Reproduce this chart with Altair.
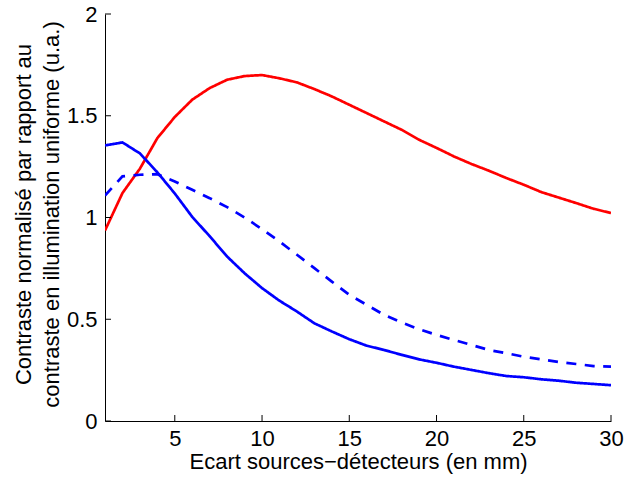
import altair as alt
import pandas as pd

# ---- data ----
x_mm = list(range(1, 31))
red_curve = [0.936, 1.12, 1.24, 1.39, 1.494, 1.579, 1.636, 1.677, 1.695, 1.700,
             1.684, 1.664, 1.631, 1.595, 1.554, 1.513, 1.472, 1.431, 1.382, 1.342,
             1.300, 1.263, 1.230, 1.194, 1.161, 1.125, 1.098, 1.071, 1.043, 1.022]
blue_solid = [1.354, 1.369, 1.315, 1.222, 1.118, 1.003, 0.908, 0.808, 0.726, 0.653,
              0.591, 0.538, 0.480, 0.440, 0.402, 0.370, 0.349, 0.325, 0.303, 0.286,
              0.267, 0.251, 0.235, 0.221, 0.215, 0.205, 0.198, 0.188, 0.182, 0.176]
blue_dashed = [1.108, 1.202, 1.210, 1.213, 1.177, 1.136, 1.095, 1.051, 1.000, 0.943,
               0.882, 0.817, 0.751, 0.685, 0.620, 0.571, 0.521, 0.484, 0.451, 0.423,
               0.398, 0.374, 0.349, 0.333, 0.316, 0.303, 0.290, 0.280, 0.270, 0.267]
series_names = ["rouge", "bleu plein", "bleu pointillé"]
x_ticks = [5, 10, 15, 20, 25, 30]
y_ticks = [0, 0.5, 1, 1.5, 2]

rows = []
for name, vals in zip(series_names, [red_curve, blue_solid, blue_dashed]):
    for xv, yv in zip(x_mm, vals):
        rows.append({"x": xv, "y": yv, "serie": name})
df = pd.DataFrame(rows)

FONT = "Liberation Sans"
FS = 22

xscale = alt.Scale(domain=[1, 30], nice=False, zero=False)
yscale = alt.Scale(domain=[0, 2], nice=False)

lines = alt.Chart(df).mark_line(strokeWidth=2.7, clip=True).encode(
    x=alt.X("x:Q", scale=xscale,
            axis=alt.Axis(values=x_ticks, ticks=False, grid=False, domainColor="black",
                          domainWidth=1, labelFontSize=FS, labelFont=FONT, labelColor="black",
                          labelPadding=7, labelFlush=False,
                          title="Ecart sources\u2212détecteurs (en mm)",
                          titleFont=FONT, titleFontSize=FS, titleFontWeight="normal",
                          titleColor="black", titleBaseline="alphabetic", titleY=47)),
    y=alt.Y("y:Q", scale=yscale,
            axis=alt.Axis(values=y_ticks, format="~g", ticks=False, grid=False,
                          domainColor="black", domainWidth=1, labelFontSize=FS,
                          labelFont=FONT, labelColor="black", labelPadding=8,
                          labelFlush=False,
                          title=["Contraste normalisé par rapport au",
                                 "contraste en illumination uniforme (u.a.)"],
                          titleFont=FONT, titleFontSize=FS, titleFontWeight="normal",
                          titleColor="black", titleAngle=270, titleBaseline="alphabetic",
                          titleX=-75, titleY=200, titleLineHeight=28)),
    color=alt.Color("serie:N", scale=alt.Scale(domain=series_names,
                                               range=["#ff0000", "#0000ff", "#0000ff"]),
                    legend=None),
    strokeDash=alt.StrokeDash("serie:N", scale=alt.Scale(domain=series_names,
                                                         range=[[1, 0], [1, 0], [10, 8.5]]),
                              legend=None),
    detail="serie:N",
)

xt = alt.Chart(pd.DataFrame({"t": x_ticks})).mark_rule(color="black", strokeWidth=1).encode(
    x=alt.X("t:Q", scale=xscale), y=alt.value(407), y2=alt.value(401))
yt = alt.Chart(pd.DataFrame({"t": y_ticks})).mark_rule(color="black", strokeWidth=1).encode(
    y=alt.Y("t:Q", scale=yscale), x=alt.value(0), x2=alt.value(6))

chart = alt.layer(lines, xt, yt).properties(
    width=506, height=407,
    autosize=alt.AutoSizeParams(type="none"),
    padding={"left": 105, "top": 14, "right": 13, "bottom": 57},
    background="white",
).configure_view(stroke=None)

chart.save("out.html", embed_options={"renderer": "svg", "actions": False})
